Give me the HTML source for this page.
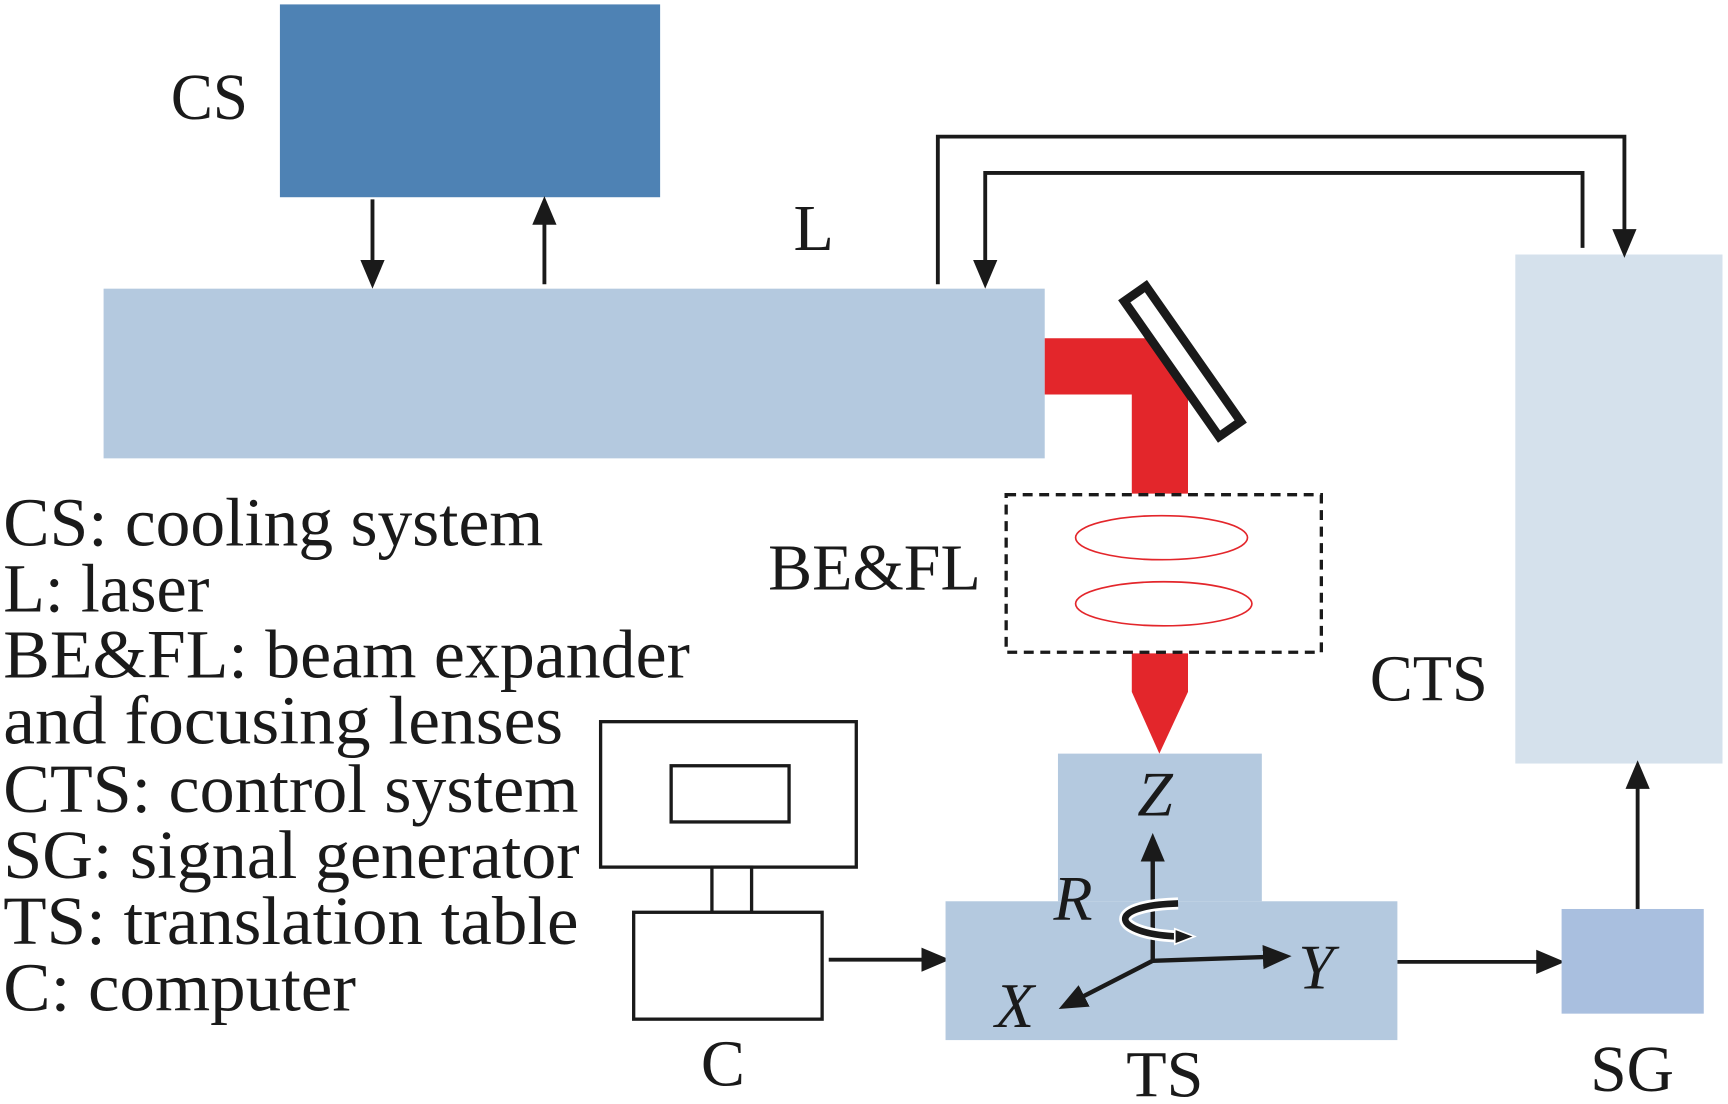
<!DOCTYPE html>
<html><head><meta charset="utf-8"><style>html,body{margin:0;padding:0;background:#fff}svg{display:block}</style></head>
<body>
<svg width="1728" height="1104" viewBox="0 0 1568 1002" preserveAspectRatio="none" xmlns="http://www.w3.org/2000/svg" font-family="Liberation Serif, serif" fill="#1a1a1a">
<defs>
<marker id="a2" markerWidth="26" markerHeight="26" refX="20" refY="13" orient="auto" markerUnits="userSpaceOnUse" viewBox="0 0 26 26"><path d="M0,2 L26,13 L0,24 z" fill="#1a1a1a"/></marker>
</defs>
<rect x="254" y="4" width="345" height="175" fill="#4e82b4"/>
<text x="155" y="108" font-size="60" textLength="70" lengthAdjust="spacingAndGlyphs">CS</text>
<rect x="94" y="262" width="854" height="154" fill="#b4c9df"/>
<text x="720" y="227" font-size="60">L</text>
<rect x="1375" y="231" width="188" height="462" fill="#d5e1ec"/>
<text x="1243" y="636" font-size="60" textLength="107" lengthAdjust="spacingAndGlyphs">CTS</text>
<g stroke="#1a1a1a" stroke-width="3.5" fill="none">
<line x1="338" y1="181" x2="338" y2="256" marker-end="url(#a2)"/>
<line x1="494" y1="258" x2="494" y2="184" marker-end="url(#a2)"/>
<polyline points="851,258 851,124 1474,124 1474,228" marker-end="url(#a2)"/>
<polyline points="1436,225 1436,157 894,157 894,256" marker-end="url(#a2)"/>
<line x1="752" y1="871" x2="856" y2="871" marker-end="url(#a2)"/>
<line x1="1268" y1="873" x2="1414" y2="873" marker-end="url(#a2)"/>
<line x1="1486" y1="825" x2="1486" y2="696" marker-end="url(#a2)"/>
</g>
<path d="M948,307 H1078 V448 H1027 V358 H948 z" fill="#e3262b"/>
<path d="M1027,593 H1078 V628 L1052,684 L1027,628 z" fill="#e3262b"/>
<g transform="translate(1073,328) rotate(-35)"><rect x="-12" y="-75" width="24" height="150" fill="#fff" stroke="#1a1a1a" stroke-width="8"/></g>
<rect x="913" y="449" width="286" height="143" fill="none" stroke="#1a1a1a" stroke-width="3" stroke-dasharray="9,6"/>
<ellipse cx="1054" cy="488" rx="78" ry="20" fill="none" stroke="#e3262b" stroke-width="1.5"/>
<ellipse cx="1056" cy="548" rx="80" ry="20" fill="none" stroke="#e3262b" stroke-width="1.5"/>
<text x="697" y="535" font-size="60" textLength="193" lengthAdjust="spacingAndGlyphs">BE&amp;FL</text>
<rect x="960" y="684" width="185" height="134" fill="#b4c9df"/>
<rect x="858" y="818" width="410" height="126" fill="#b4c9df"/>
<g stroke="#1a1a1a" stroke-width="3" fill="#fff">
<rect x="545" y="655" width="232" height="132"/>
<rect x="609" y="695" width="107" height="51"/>
<rect x="646" y="787" width="36" height="41"/>
<rect x="575" y="828" width="171" height="97"/>
</g>
<rect x="1417" y="825" width="129" height="95" fill="#a9bfdf"/>
<g stroke="#1a1a1a" stroke-width="4" fill="none">
<line x1="1046" y1="872" x2="1046" y2="762" marker-end="url(#a2)"/>
<line x1="1046" y1="872" x2="1166" y2="868" marker-end="url(#a2)"/>
<line x1="1046" y1="872" x2="966" y2="913" marker-end="url(#a2)"/>
</g>
<path d="M1190,0" />
<path d="M1069,820 C1000,822 1010,848 1070,850" fill="none" stroke="#fff" stroke-width="11"/>
<path d="M1069,820 C1000,822 1010,848 1070,850" fill="none" stroke="#1a1a1a" stroke-width="6"/>
<path d="M1066,843 L1084,850 L1066,857 z" fill="#1a1a1a" stroke="#fff" stroke-width="1.5"/>
<g font-style="italic" font-size="58">
<text x="1032" y="740">Z</text>
<text x="956" y="835">R</text>
<text x="1178" y="897">Y</text>
<text x="903" y="932">X</text>
</g>
<text x="636" y="985" font-size="60">C</text>
<text x="1022" y="995" font-size="60" textLength="70" lengthAdjust="spacingAndGlyphs">TS</text>
<text x="1443" y="990" font-size="60" textLength="76" lengthAdjust="spacingAndGlyphs">SG</text>
<g font-size="62" lengthAdjust="spacingAndGlyphs">
<text x="3" y="495" textLength="490" lengthAdjust="spacingAndGlyphs">CS: cooling system</text>
<text x="3" y="555" textLength="187" lengthAdjust="spacingAndGlyphs">L: laser</text>
<text x="3" y="615" textLength="623" lengthAdjust="spacingAndGlyphs">BE&amp;FL: beam expander</text>
<text x="3" y="675" textLength="508" lengthAdjust="spacingAndGlyphs">and focusing lenses</text>
<text x="3" y="737" textLength="522" lengthAdjust="spacingAndGlyphs">CTS: control system</text>
<text x="3" y="797" textLength="523" lengthAdjust="spacingAndGlyphs">SG: signal generator</text>
<text x="3" y="857" textLength="522" lengthAdjust="spacingAndGlyphs">TS: translation table</text>
<text x="3" y="917" textLength="320" lengthAdjust="spacingAndGlyphs">C: computer</text>
</g>
</svg>
</body></html>
